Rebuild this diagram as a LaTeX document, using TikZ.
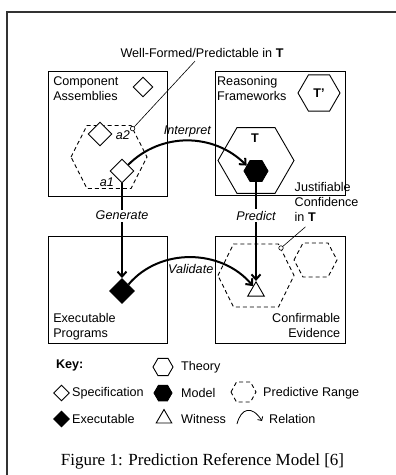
\documentclass[tikz,border=0pt]{standalone}
\usepackage{fontspec}
\setmainfont{Liberation Serif}
\setsansfont{Liberation Sans}
\usetikzlibrary{positioning,shapes.geometric,arrows.meta,calc}

\newcommand{\rangehex}[4]{%
  \draw[rangeline] ($(#1)+(-#2,0)$) -- ++({#2-#3},#4) -- ++({2*#3},0)
    -- ++({#2-#3},-#4) -- ++({#3-#2},-#4) -- ++({-2*#3},0) -- cycle;}

\begin{document}
\begin{tikzpicture}[
    x=1pt, y=1pt,
    every node/.style={font=\sffamily\fontsize{12.6}{15}\selectfont},
    panel/.style={draw, line width=0.9pt, inner sep=0},
    txt/.style={inner sep=0, align=left},
    specshape/.style={diamond, draw, fill=white, line width=0.9pt, inner sep=0, minimum width=#1, minimum height=#1},
    exeshape/.style={specshape=#1, fill=black},
    theoryshape/.style={regular polygon, regular polygon sides=6, draw, line width=0.9pt, inner sep=0, minimum size=#1},
    modelshape/.style={theoryshape=#1, fill=black},
    witnessshape/.style={regular polygon, regular polygon sides=3, draw, line width=0.9pt, inner sep=0, minimum size=#1},
    rangeline/.style={draw, dash pattern=on 4pt off 3pt, line width=0.9pt},
    dot/.style={circle, draw, fill=white, inner sep=0, minimum size=4.5pt, line width=0.6pt},
    callout/.style={line width=0.6pt},
    flow/.style={-{Straight Barb[length=5pt,width=9pt]}, line width=2pt},
    relarrow/.style={-{Straight Barb[length=3pt,width=6pt]}, line width=0.8pt},
    lbl/.style={fill=white, inner sep=1.5pt, font=\sffamily\itshape\fontsize{12.6}{15}\selectfont},
    bold/.style={font=\sffamily\bfseries\fontsize{12.6}{15}\selectfont}
]
\useasboundingbox (0,0) rectangle (396,-475);
\draw[line width=1.2pt, black!80] (7,-12) rectangle (410,-490);

\node[panel, minimum width=119, minimum height=125] (asm) at (107.5,-133.5) {};
\node[panel, minimum width=130, minimum height=124, right=48pt of asm] (rf) {};
\node[panel, minimum width=119, minimum height=107, below=40pt of asm] (prog) {};
\node[panel, minimum width=130, minimum height=107, right=48pt of prog] (evid) {};

\node[txt, anchor=north west] (asmtxt) at ([shift={(5.5pt,-6pt)}]asm.north west) {Component\\Assemblies};
\node[txt, anchor=north west] (rftxt) at ([shift={(1.5pt,-5.5pt)}]rf.north west) {Reasoning\\Frameworks};
\node[txt, anchor=south west] (progtxt) at ([shift={(5.5pt,4pt)}]prog.south west) {Executable\\Programs};
\node[txt, anchor=south east, align=right] (evidtxt) at ([shift={(-6pt,6.5pt)}]evid.south east) {Confirmable\\Evidence};

\node[specshape=20] (asmspec) at (143,-87) {};
\node[theoryshape=42, bold] (tprime) at (319,-93) {T'};
\coordinate (rangeA) at (109,-157);
\rangehex{rangeA}{38}{22}{31.5}
\node[specshape=24] (a2) at (100,-134) {};
\node (a2txt) at (123,-135) {\itshape a2};
\node[specshape=24] (a1) at (122,-171) {};
\node (a1txt) at (107,-182) {\itshape a1};
\node[theoryshape=76] (thy) at (256,-160.5) {};
\node[bold] (thytxt) at (255,-138) {T};
\node[modelshape=24] (model) at (256,-171) {};

\node[exeshape=25] (exe) at (122,-291) {};
\coordinate (rangeE) at (256,-275.5);
\rangehex{rangeE}{38}{22.5}{31.5}
\coordinate (rangeEb) at (315.5,-260);
\rangehex{rangeEb}{21.5}{12.5}{17}
\node[witnessshape=19] (wit) at (256,-291.3) {};

\node[anchor=base] (wfnote) at (202,-57.5) {Well-Formed/Predictable in \textbf{T}};
\node[dot] (wfdot) at (132.6,-128.6) {};
\draw[callout] (wfdot) -- ([xshift=-7pt]wfnote.south);
\node[txt, anchor=north west] (jcnote) at (294.5,-182.3) {Justifiable\\Confidence\\in \textbf{T}};
\node[dot] (jcdot) at (281,-248) {};
\draw[callout] (jcdot) -- ([shift={(11pt,-5pt)}]jcnote.south west);

\draw[flow] (a1) -- (exe) node[lbl, pos=.34] {Generate};
\draw[flow] (model) -- (wit) node[lbl, pos=.34] {Predict};
\draw[flow] (a1.north east) to[out=45, in=135] node[lbl, fill=none, above=1pt] {Interpret} (model.150);
\draw[flow] (exe.north east) to[out=50, in=130] node[lbl, fill=none, below=5pt] {Validate} (wit.120);

\node[anchor=west, bold] (key) at (52.5,-365) {Key:};
\node[theoryshape=20] (kthy) at (163,-367) {};
\node[anchor=west] (kthytxt) at (177.7,-367) {Theory};
\node[specshape=16] (kspec) at (61.5,-393) {};
\node[anchor=west] (kspectxt) at (68.7,-393) {Specification};
\node[modelshape=18] (kmodel) at (163,-393) {};
\node[anchor=west] (kmodeltxt) at (177.7,-393) {Model};
\coordinate (krange) at (243.5,-392);
\rangehex{krange}{12.5}{7}{10}
\node[anchor=west] (krangetxt) at (259.7,-393) {Predictive Range};
\node[exeshape=16] (kexe) at (61.5,-419) {};
\node[anchor=west] (kexetxt) at (68.7,-419) {Executable};
\node[witnessshape=18] (kwit) at (164,-418.5) {};
\node[anchor=west] (kwittxt) at (177.7,-419) {Witness};
\coordinate (reltail) at (237,-424);
\coordinate (relhead) at (262,-421);
\draw[relarrow] (reltail) .. controls (241,-408) and (252,-405) .. (relhead);
\node[anchor=west] (kreltxt) at (265.7,-419) {Relation};

\node[font=\rmfamily\fontsize{17}{20}\selectfont] (caption) at (202.5,-461) {Figure 1: Prediction Reference Model [6]};
\end{tikzpicture}
\end{document}
